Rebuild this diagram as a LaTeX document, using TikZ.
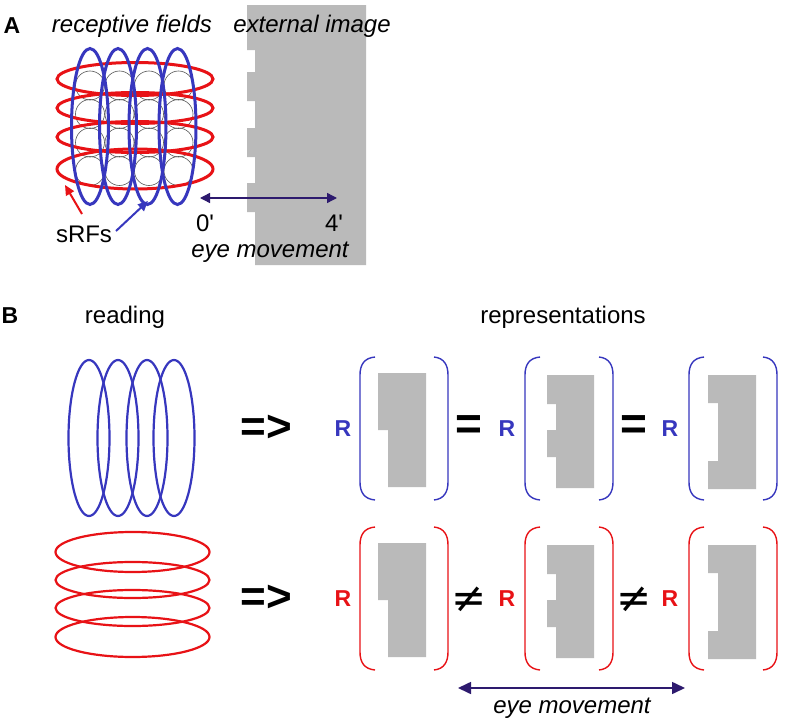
\documentclass[tikz,border=0pt]{standalone}
\usepackage{fontspec}
\setmainfont{Liberation Sans}
\newfontfamily\djv{DejaVu Sans}
\usetikzlibrary{arrows.meta}
\definecolor{myblue}{RGB}{55,55,190}
\definecolor{myred}{RGB}{232,18,22}
\definecolor{imggray}{RGB}{186,186,186}
\definecolor{arrowpurple}{RGB}{45,26,110}
\tikzset{
  lbl/.style={inner sep=0pt, anchor=base, font=\fontsize{24}{28}\selectfont},
  ilbl/.style={lbl, font=\fontsize{24}{28}\selectfont\itshape},
  panel/.style={inner sep=0pt, anchor=base, font=\fontsize{23}{28}\selectfont\bfseries},
  rlbl/.style={inner sep=0pt, font=\fontsize{23}{26}\selectfont\bfseries},
  impl/.style={inner sep=0pt, font=\fontsize{44}{48}\selectfont\bfseries},
  eqrel/.style={inner sep=0pt, font=\fontsize{46}{50}\selectfont\bfseries},
  neqrel/.style={inner sep=0pt, font=\fontsize{42}{48}\selectfont\djv},
  grayimg/.style={fill=imggray, draw=none},
  brk/.style={line width=1.4pt},
  rfA/.style={line width=3pt},
  rfB/.style={line width=2.2pt},
  eyearrow/.style={arrowpurple, line width=1.6pt, {Triangle[length=13pt,width=12pt]}-{Triangle[length=13pt,width=12pt]}},
  eyearrowA/.style={arrowpurple, line width=1.4pt, {Triangle[length=10pt,width=10pt]}-{Triangle[length=10pt,width=10pt]}},
  pointer/.style={line width=2pt, -{Triangle[length=10pt,width=9pt]}},
}
\begin{document}
\begin{tikzpicture}[x=1pt,y=-1pt]
\useasboundingbox[fill=white] (0,0) rectangle (788,728);

% ---------------- Panel A ----------------
\fill[grayimg] (247,5) -- (366,5) -- (366,265) -- (255,265) -- (255,212) -- (247,212)
  -- (247,183) -- (255,183) -- (255,157) -- (247,157) -- (247,128) -- (255,128)
  -- (255,101) -- (247,101) -- (247,72) -- (255,72) -- (255,50) -- (247,50) -- cycle;

\node[panel] (lblA) at (12,33) {A};
\node[ilbl] (rflbl) at (132,32) {receptive fields};
\node[ilbl] (extlbl) at (312,32) {external image};

% small receptive fields
\foreach \cx [count=\i] in {90,119.5,149,178.5}
  \foreach \cy [count=\j] in {85.5,114,142.5,171}
    \draw[black!65, line width=0.6pt] (\cx,\cy) circle[radius=14.5];

% red sRFs (horizontal)
\foreach \cy/\ry in {79/16.5,108/15.5,137/15.5,169/20}
  \draw[rfA, myred] (135,\cy) ellipse[x radius=78, y radius=\ry];
% blue sRFs (vertical)
\foreach \cx in {90,118,147.5,177.5}
  \draw[rfA, myblue] (\cx,126.5) ellipse[x radius=18.5, y radius=78];

\node[lbl] (srfs) at (84,242) {sRFs};
\coordinate (redtail) at (82,214);
\coordinate (redtip) at (65,185);
\coordinate (bluetail) at (116,231);
\coordinate (bluetip) at (148,201);
\draw[pointer, myred] (redtail) -- (redtip);
\draw[pointer, myblue] (bluetail) -- (bluetip);

\coordinate (eyeA0) at (200,198);
\coordinate (eyeA4) at (337,198);
\draw[eyearrowA] (eyeA0) -- (eyeA4);
\node[lbl] (zero) at (205,231) {0\textquotesingle};
\node[lbl] (four) at (334,231) {4\textquotesingle};
\node[ilbl] (eyeA) at (270,257) {eye movement};

% ---------------- Panel B ----------------
\node[panel] (lblB) at (10,323) {B};
\node[lbl] (reading) at (125,323) {reading};
\node[lbl] (repr) at (563,323) {representations};

% blue reading ellipses
\foreach \cx in {89,118,147,174}
  \draw[rfB, myblue] (\cx,438) ellipse[x radius=20.5, y radius=78];
% red reading ellipses
\foreach \cy/\ry in {552/20,580/18,608/18,637/20}
  \draw[rfB, myred] (132.5,\cy) ellipse[x radius=77, y radius=\ry];

\node[impl] (impl1) at (266,428) {=>};
\node[impl] (impl2) at (266,598) {=>};

\foreach \o/\c/\n in {0/myblue/1, 170/myred/2} {
  % brackets
  \foreach \l/\r [count=\k] in {360/448, 525/613, 689/777} {
    \draw[brk, \c] ({\l+15},{357+\o}) .. controls ({\l+4},{358+\o}) and (\l,{365+\o}) .. (\l,{375+\o})
      -- (\l,{482+\o}) .. controls (\l,{492+\o}) and ({\l+4},{499+\o}) .. ({\l+15},{500+\o});
    \draw[brk, \c] ({\r-14},{357+\o}) .. controls ({\r-4},{358+\o}) and (\r,{365+\o}) .. (\r,{375+\o})
      -- (\r,{482+\o}) .. controls (\r,{492+\o}) and ({\r-4},{499+\o}) .. ({\r-14},{500+\o});
  }
  % images
  \fill[grayimg] (378,{373+\o}) -- (426,{373+\o}) -- (426,{487+\o}) -- (388,{487+\o})
    -- (388,{430+\o}) -- (378,{430+\o}) -- cycle;
  \fill[grayimg] (547,{375+\o}) -- (594,{375+\o}) -- (594,{488+\o}) -- (556,{488+\o})
    -- (556,{457+\o}) -- (547,{457+\o}) -- (547,{430+\o}) -- (556,{430+\o})
    -- (556,{404+\o}) -- (547,{404+\o}) -- cycle;
  \fill[grayimg] (708,{375+\o}) -- (756,{375+\o}) -- (756,{489+\o}) -- (708,{489+\o})
    -- (708,{461+\o}) -- (718,{461+\o}) -- (718,{403+\o}) -- (708,{403+\o}) -- cycle;
  % R labels
  \node[rlbl, text=\c] (R\n a) at (343,{429+\o}) {R};
  \node[rlbl, text=\c] (R\n b) at (507,{429+\o}) {R};
  \node[rlbl, text=\c] (R\n c) at (670,{429+\o}) {R};
}

% relations
\node[eqrel] (eq1) at (469,428) {=};
\node[eqrel] (eq2) at (634,428) {=};
\node[neqrel] (neq1) at (469,600) {≠};
\node[neqrel] (neq2) at (634,600) {≠};

\coordinate (eyeB0) at (458,688);
\coordinate (eyeB1) at (685,688);
\draw[eyearrow] (eyeB0) -- (eyeB1);
\node[ilbl] (eyeB) at (572,713) {eye movement};
\end{tikzpicture}
\end{document}
